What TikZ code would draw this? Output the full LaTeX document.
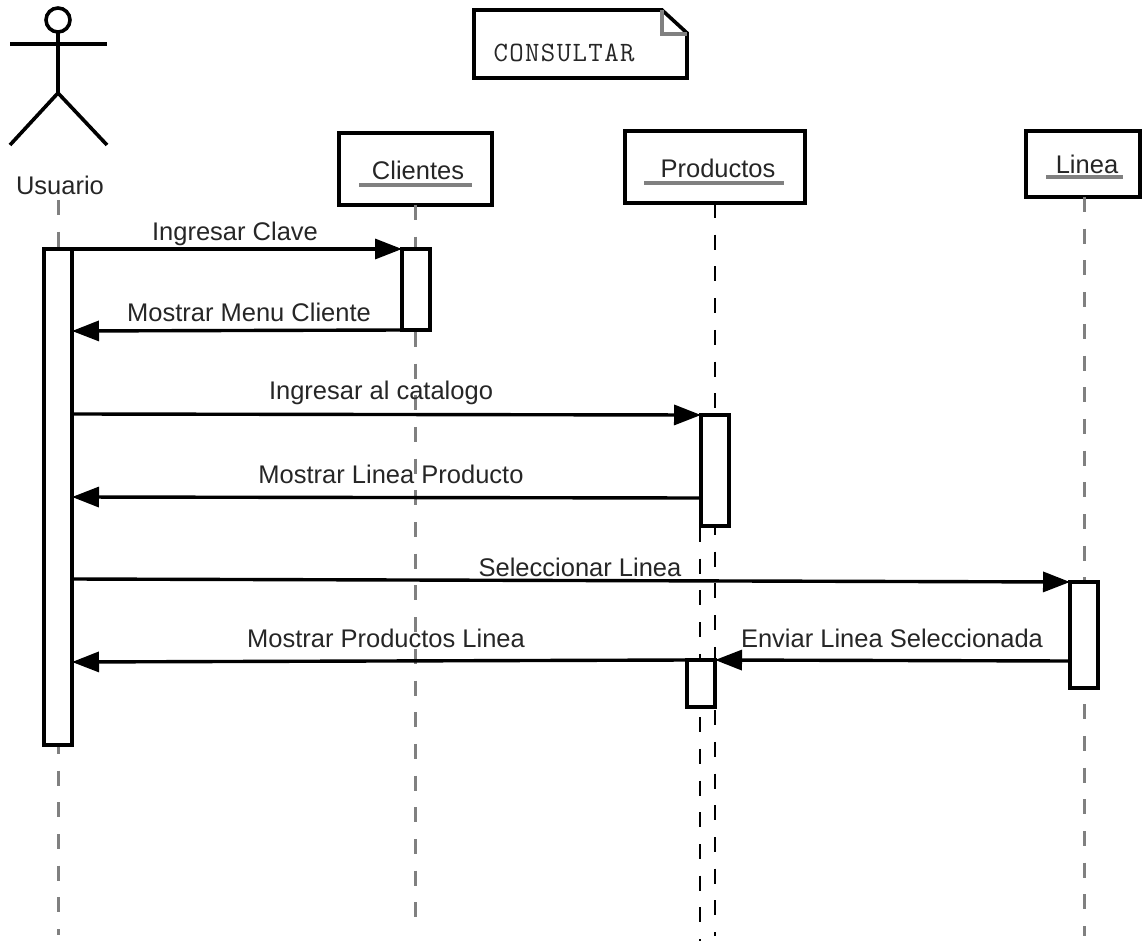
\documentclass[tikz,border=0pt]{standalone}
\usepackage{fontspec}
\setmainfont{Liberation Sans}
\setmonofont[LetterSpace=5]{Latin Modern Mono}
\usetikzlibrary{arrows.meta,calc}
\tikzset{
  x=1pt,y=-1pt,
  objbox/.style={draw=black,line width=3.6pt,fill=white,inner sep=0pt,outer sep=0pt,minimum height=#1,anchor=north west},
  act/.style={draw=black,line width=3.6pt,fill=white,inner sep=0pt,outer sep=0pt,minimum width=28pt,minimum height=#1,anchor=north west},
  lifegrey/.style={draw=black!50,line width=3pt,dash pattern=on 15pt off 16.7pt},
  lifethin/.style={draw=black,line width=2pt,dash pattern=on 15pt off 16.7pt},
  msg/.style={draw=black,line width=3.4pt,-{Triangle[length=27pt,width=20pt,fill=black]}},
  lbl/.style={font=\fontsize{25.5}{27}\selectfont,text=black!85,inner sep=0pt},
  uline/.style={draw=black!50,line width=3.4pt},
  stick/.style={draw=black,line width=3.6pt}
}
\begin{document}
\begin{tikzpicture}
\useasboundingbox (0,0) rectangle (1142,941);
% note
\node[inner sep=0pt,font=\ttfamily\fontsize{28}{30}\selectfont,text=black!85] (note) at (564,53) {CONSULTAR};
\draw[stick,line join=miter] (474,10) -- (662,10) -- (687,33) -- (687,78) -- (474,78) -- cycle;
\draw[uline] (662,10) -- (662,34) -- (687,34);
% actor
\node[circle,draw=black,line width=3.6pt,minimum size=24pt,inner sep=0pt,outer sep=0pt] (head) at (58,20) {};
\coordinate (hip) at (58,93);
\coordinate (armL) at (10,44);
\coordinate (armR) at (107,44);
\coordinate (legL) at (10,145);
\coordinate (legR) at (107,145);
\draw[stick] (head.south) -- (hip);
\draw[stick] (armL) -- (armR);
\draw[stick] (legL) -- (hip) -- (legR);
\node[lbl] (usuario) at (60,185) {Usuario};
% object boxes
\node[objbox=72pt,minimum width=153pt] (clientes) at (339,133) {};
\node[objbox=72pt,minimum width=180pt] (productos) at (625,131) {};
\node[objbox=66pt,minimum width=114pt] (linea) at (1026,131) {};
\node[lbl] (tc) at (418,170) {Clientes};
\node[lbl] (tp) at (718,168) {Productos};
\node[lbl] (tl) at (1087,164) {Linea};
\draw[uline] (359,185) -- (472,185);
\draw[uline] (644,183) -- (784,183);
\draw[uline] (1046,177) -- (1123,177);
% lifeline ends
\coordinate (uStart) at (58,200);
\coordinate (uEnd) at (58,935);
\coordinate (cEnd) at (415,921);
\coordinate (pEnd) at (715,936);
\coordinate (qEnd) at (700,941);
\coordinate (lEnd) at (1084,936);
\coordinate (qStart) at (700,527);
\draw[lifegrey] (uStart) -- (uEnd);
\draw[lifegrey] (clientes.south -| cEnd) -- (cEnd);
\draw[lifethin] (productos.south -| pEnd) -- (pEnd);
\draw[lifethin] (qStart) -- (qEnd);
\draw[lifegrey] (linea.south -| lEnd) -- (lEnd);
% activations
\node[act=496pt] (au) at (44,249) {};
\node[act=81pt] (ac) at (402,249) {};
\node[act=111pt] (ap) at (701,415) {};
\node[act=106pt] (al) at (1070,582) {};
\node[act=47pt] (aq) at (687,660) {};
% messages
\draw[msg] (au.north east) -- (ac.north west);
\draw[msg] (ac.south west) -- ($(au.north east)+(0,82)$);
\draw[msg] ($(au.north east)+(0,165)$) -- (ap.north west);
\draw[msg] ($(ap.north west)+(0,83)$) -- ($(au.north east)+(0,248)$);
\draw[msg] ($(au.north east)+(0,330)$) -- (al.north west);
\draw[msg] (aq.north west) -- ($(au.north east)+(0,413)$);
\draw[msg] ($(al.north west)+(0,79)$) -- (aq.north east);
% labels
\node[lbl] (m1) at (235,234) {Ingresar Clave};
\node[lbl] (m2) at (249,312) {Mostrar Menu Cliente};
\node[lbl] (m3) at (381,393) {Ingresar al catalogo};
\node[lbl] (m4) at (391,474) {Mostrar Linea Producto};
\node[lbl] (m5) at (580,567) {Seleccionar Linea};
\node[lbl] (m6) at (386,638) {Mostrar Productos Linea};
\node[lbl] (m7) at (892,638) {Enviar Linea Seleccionada};
\end{tikzpicture}
\end{document}
